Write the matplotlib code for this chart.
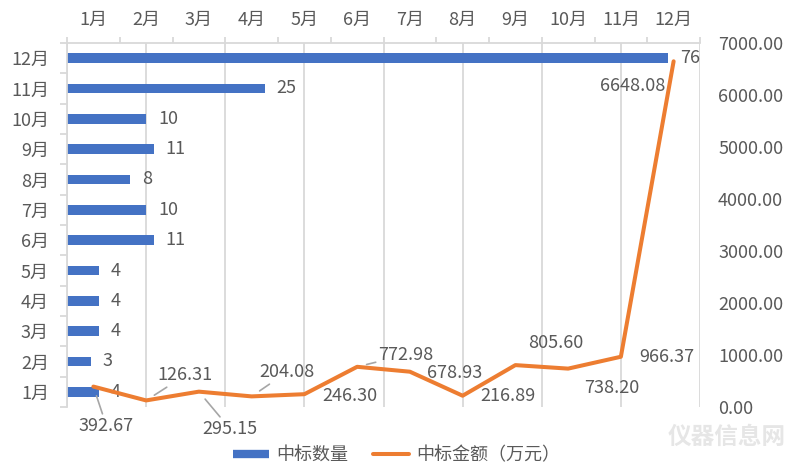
import matplotlib
matplotlib.use("Agg")
import matplotlib.pyplot as plt
from matplotlib.lines import Line2D
import numpy as np

plt.rcParams['font.family'] = ['Noto Sans CJK SC', 'DejaVu Sans']

months = ['1月', '2月', '3月', '4月', '5月', '6月', '7月', '8月', '9月', '10月', '11月', '12月']
counts = [4, 3, 4, 4, 4, 11, 10, 8, 11, 10, 25, 76]
amounts = [392.67, 126.31, 295.15, 204.08, 246.30, 772.98, 678.93, 216.89, 805.60, 738.20, 966.37, 6648.08]
series_names = ['中标数量', '中标金额（万元）']

# label offsets (pixels) for the amount labels and whether a leader line is drawn
label_offsets = [(13, -39), (39, 25), (31, -37), (35, 24), (46, -2), (49, 12),
                 (45, -1), (45, 0), (40, 22), (44, -19), (46, 0), (-41, -25)]
leaders = [True, True, True, True, False, True, False, False, False, False, False, False]

TEXT = '#595959'
GRID = '#D9D9D9'
BLUE = '#4472C4'
ORANGE = '#ED7D31'
FS = 13

W, H = 789, 473
fig = plt.figure(figsize=(W / 100, H / 100), dpi=100)
rect = [67 / W, 1 - 407 / H, (700 - 67) / W, (407 - 43) / H]

# bar axes
ax = fig.add_axes(rect)
yy = np.arange(len(months))
ax.barh(yy, counts, height=0.32, color=BLUE, zorder=2)
ax.set_xlim(0, 80)
ax.set_ylim(-0.5, 11.5)
ax.set_xticks(np.arange(0, 81, 10))
ax.tick_params(axis='x', length=0, labelbottom=False)
ax.grid(axis='x', color=GRID, lw=1.3, zorder=0)
ax.set_yticks(yy, labels=months)
ax.set_yticks(np.arange(-0.5, 12, 1), minor=True)
ax.tick_params(axis='y', which='major', length=0, pad=13, labelsize=FS, labelcolor=TEXT)
ax.tick_params(axis='y', which='minor', length=5, width=1.3, color=GRID)
for s in ['top', 'right', 'bottom']:
    ax.spines[s].set_visible(False)
ax.spines['left'].set_color(GRID)
ax.spines['left'].set_linewidth(1.3)
for i, c in enumerate(counts):
    ax.annotate(str(c), (c, i), xytext=(8.5, 0), textcoords='offset points',
                va='center', ha='left', fontsize=FS, color=TEXT)

# line axes
ax2 = fig.add_axes(rect, facecolor='none')
xx = np.arange(len(months))
ax2.plot(xx, amounts, color=ORANGE, lw=2.9, solid_joinstyle='round',
         solid_capstyle='round', zorder=3)
ax2.set_xlim(-0.5, 11.5)
ax2.set_ylim(0, 7000)
ax2.xaxis.tick_top()
ax2.set_xticks(xx, labels=months)
ax2.set_xticks(np.arange(-0.5, 12, 1), minor=True)
ax2.tick_params(axis='x', which='major', length=0, pad=10, labelsize=FS, labelcolor=TEXT)
ax2.tick_params(axis='x', which='minor', length=4, width=1.3, color=GRID)
ax2.yaxis.tick_right()
yt = np.arange(0, 7001, 1000)
ax2.set_yticks(yt, labels=[f'{v:.2f}' for v in yt])
ax2.tick_params(axis='y', length=0, pad=13, labelsize=FS, labelcolor=TEXT)
for s in ['left', 'right', 'bottom']:
    ax2.spines[s].set_visible(False)
ax2.spines['top'].set_color(GRID)
ax2.spines['top'].set_linewidth(1.3)

for i, v in enumerate(amounts):
    dx, dy = label_offsets[i]
    ap = dict(arrowstyle='-', color='#A6A6A6', lw=1.2, shrinkA=0, shrinkB=7) if leaders[i] else None
    ax2.annotate(f'{v:.2f}', (i, v), xytext=(dx * 0.72, dy * 0.72), textcoords='offset points',
                 ha='center', va='center', fontsize=FS, color=TEXT, arrowprops=ap, zorder=4)

# legend
handles = [Line2D([], [], color=BLUE, lw=6, solid_capstyle='butt'),
           Line2D([], [], color=ORANGE, lw=2.9, solid_capstyle='round')]
leg = fig.legend(handles, series_names, loc='center', bbox_to_anchor=(0.5025, 1 - 455 / H),
                 ncol=2, frameon=False, fontsize=FS, handlelength=2.0, handletextpad=0.4,
                 columnspacing=1.4)
for t in leg.get_texts():
    t.set_color(TEXT)

# watermark
fig.text(727 / W, 1 - 437 / H, '仪器信息网', fontsize=17, color='#E6E6E6',
         ha='center', va='center', fontweight='bold')

fig.savefig('out.png', dpi=100)
